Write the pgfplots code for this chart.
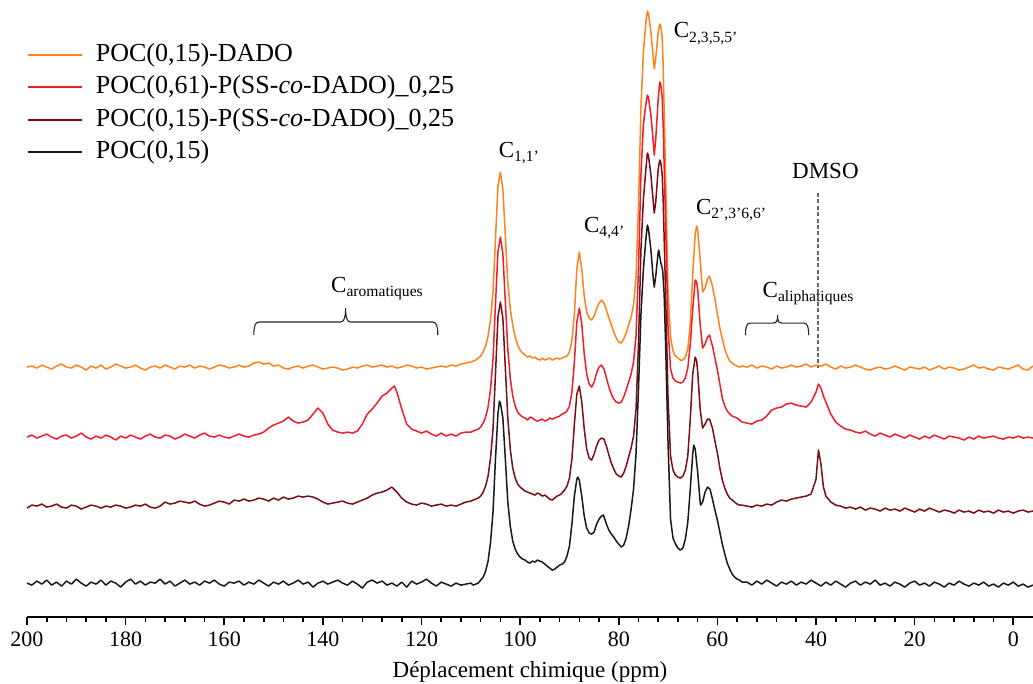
\documentclass[border=0pt]{standalone}
\usepackage{fontspec}
\setmainfont{Liberation Serif}
\usepackage{pgfplots}
\pgfplotsset{compat=1.18}
\usetikzlibrary{calc}
\definecolor{corange}{RGB}{255,130,30}
\definecolor{cred}{RGB}{240,30,40}
\definecolor{cdark}{RGB}{122,14,22}
\definecolor{cblack}{RGB}{25,25,25}
\newcommand\sub[1]{\raisebox{-2.2pt}{\fontsize{7.8}{8}\selectfont #1}}
\begin{document}
\begin{tikzpicture}
\begin{axis}[
  width=502.9pt, height=308.5pt, scale only axis,
  xmin=-4, xmax=200, ymin=-3, ymax=614,
  x dir=reverse,
  axis x line=bottom, axis y line=none,
  axis line style={-, line width=0.9pt},
  xtick={0,20,...,200}, minor x tick num=4,
  tick align=outside,
  major tick length=4pt, minor tick length=2.2pt,
  every tick/.style={black, line width=0.8pt},
  ytick=\empty,
  xticklabel style={font=\fontsize{11}{13}\selectfont},
  /pgf/number format/assume math mode=true,
  xlabel={Déplacement chimique (ppm)},
  xlabel style={font=\fontsize{11.5}{14}\selectfont, at={(axis description cs:0.5,0)}, anchor=base, yshift=-30pt},
  clip=false,
  legend cell align=left,
  legend style={draw=none, fill=none, at={(0.0,0.931)}, anchor=north west,
    inner sep=0pt, outer sep=0pt, font=\fontsize{13}{15}\selectfont, row sep=3.8pt,
    nodes={inner sep=0pt, text height=9.4pt, text depth=3pt},
    /tikz/every odd column/.append style={column sep=6.5pt}},
  legend image code/.code={\draw[#1, line width=0.9pt] (0pt,0pt) -- (27pt,0pt);},
  every axis plot/.append style={line width=0.75pt, line join=round},
]
\addplot[corange] table {
200 247
199 248
198 246
197 249
196 247
195 245
194 248
193 250
192 247
191 246
190 249
189 247
188 244
187 248
186 246
185 249
184 245
183 247
182 250
181 248
180 246
179 247
178 249
177 246
176 244
175 247
174 248
173 246
172 249
171 247
170 245
169 248
168 247
167 249
166 246
165 248
164 247
163 245
162 247
161 249
160 248
159 246
158 247
157 249
156 247
155 248
154 251
153 252
152 250
151 251
150 248
149 249
148 246
147 245
146 247
145 248
144 246
143 248
142 249
141 247
140 245
139 246
138 247
137 246
136 244
135 245
134 247
133 246
132 248
131 249
130 247
129 248
128 249
127 247
126 248
125 246
124 247
123 249
122 248
121 246
120 247
119 245
118 246
117 247
116 248
115 247
114 249
113 248
112 250
111 251
110 252
109.5 253
109 254
108.5 256
108 258
107.5 262
107 268
106.5 278
106 295
105.5 322
105 375
104.5 428
104 442
103.5 425
103 378
102.5 332
102 305
101.5 289
101 277
100.5 269
100 264
99.5 261
99 259
98.5 257
98 258
97.5 256
97 257
96.5 255
96 254
95.5 256
95 254
94.5 255
94 256
93.5 254
93 255
92.5 256
92 255
91.5 256
91 257
90.5 258
90 262
89.5 274
89 300
88.5 345
88 362
87.5 345
87 318
86.5 302
86 296
85.5 294
85 298
84.5 305
84 311
83.5 314
83 311
82.5 304
82 296
81.5 289
81 282
80.5 276
80 272
79.5 271
79 275
78.5 281
78 289
77.5 297
77 309
76.5 337
76 407
75.5 507
75 562
74.5 592
74.2 603
74 601
73.5 583
73 556
72.8 545
72.5 556
72 582
71.7 590
71.5 588
71.2 577
71 550
70.5 437
70 322
69.5 277
69 263
68.5 258
68 256
67.5 254
67 254
66.5 257
66 265
65.5 290
65 340
64.5 380
64.2 388
64 384
63.5 355
63 322
62.5 326
62 335
61.6 338
61 328
60.5 315
60 300
59.5 286
59 275
58.5 265
58 258
57.5 253
57 251
56.5 249
56 248
55.5 247
55 248
54 247
53 249
52 246
51 248
50 247
49 245
48 248
47 246
46 247
45 249
44 247
43 248
42 250
41 247
40 249
39 248
38 250
37 247
36 245
35 248
34 246
33 247
32 249
31 247
30 245
29 244
28 246
27 247
26 245
25 246
24 248
23 246
22 244
21 247
20 246
19 245
18 247
17 244
16 246
15 248
14 245
13 247
12 246
11 244
10 245
9 247
8 249
7 246
6 247
5 245
4 244
3 247
2 246
1 245
0 247
-1 249
-2 245
-3 244
-4 248
};
\addlegendentry{POC(0,15)-DADO}
\addplot[cred] table {
200 177
199 179
198 176
197 178
196 180
195 177
194 175
193 178
192 179
191 176
190 178
189 181
188 177
187 175
186 178
185 176
184 179
183 177
182 174
181 178
180 176
179 179
178 177
177 175
176 178
175 180
174 177
173 176
172 179
171 178
170 175
169 177
168 180
167 178
166 176
165 179
164 181
163 178
162 177
161 179
160 177
159 176
158 178
157 180
156 178
155 177
154 179
153 180
152 182
151 186
150 189
149 191
148 193
147 197
146 193
145 191
144 192
143 194
142 200
141 206
140 201
139 190
138 184
137 182
136 181
135 182
134 181
133 183
132 190
131 200
130 205
129 211
128 218
127 221
126 226
125.5 228
125 222
124 205
123 190
122 185
121 183
120 181
119 183
118 180
117 178
116 181
115 178
114 180
113 178
112 181
111 182
110 182
109.5 183
109 184
108.5 185
108 187
107.5 191
107 197
106.5 207
106 225
105.5 255
105 310
104.5 362
104 377
103.5 360
103 312
102.5 265
102 236
101.5 218
101 208
100.5 202
100 199
99.5 197
99 196
98.5 194
98 197
97.5 196
97 194
96.5 193
96 194
95.5 195
95 193
94.5 194
94 196
93.5 195
93 196
92.5 197
92 198
91.5 200
91 201
90.5 203
90 208
89.5 222
89 252
88.5 292
88 306
87.5 290
87 260
86.5 240
86 230
85.5 227
85 232
84.5 241
84 247
83.5 249
83 245
82.5 236
82 227
81.5 220
81 215
80.5 212
80 211
79.5 212
79 217
78.5 224
78 232
77.5 240
77 252
76.5 278
76 345
75.5 440
75 490
74.5 510
74.2 519
74 517
73.5 500
73 472
72.8 459
72.5 475
72 515
71.7 532
71.5 530
71.2 518
71 490
70.5 390
70 285
69.5 245
69 236
68.5 233
68 232
67.5 231
67 232
66.5 236
66 246
65.5 270
65 305
64.5 334
64.2 332
64 325
63.5 290
63 266
62.5 270
62 277
61.6 279
61 268
60.5 256
60 244
59.5 230
59 216
58.5 208
58 203
57.5 200
57 198
56.5 197
56 196
55.5 194
55 192
54 191
53 190
52 193
51 194
50 198
49 204
48 206
47 207
46 210
45 211
44 209
43 208
42 207
41 212
40 222
39.5 230
39 226
38.5 218
38 212
37 200
36 192
35 188
34 185
33 184
32 182
31 181
30 183
29 180
28 178
27 181
26 179
25 177
24 180
23 178
22 176
21 179
20 177
19 175
18 178
17 176
16 179
15 177
14 175
13 178
12 177
11 176
10 174
9 177
8 175
7 178
6 176
5 177
4 178
3 176
2 175
1 177
0 176
-1 178
-2 176
-3 177
-4 176
};
\addlegendentry{POC(0,61)-P(SS-\textit{co}-DADO)\_0,25}
\addplot[cdark] table {
200 106
199 109
198 108
197 110
196 107
195 108
194 110
193 107
192 106
191 109
190 108
189 105
188 107
187 109
186 108
185 106
184 108
183 107
182 109
181 108
180 106
179 107
178 109
177 108
176 110
175 107
174 106
173 108
172 112
171 110
170 111
169 113
168 112
167 111
166 113
165 110
164 108
163 109
162 111
161 113
160 112
159 110
158 114
157 113
156 115
155 113
154 114
153 116
152 115
151 113
150 116
149 114
148 117
147 115
146 116
145 118
144 117
143 118
142 117
141 115
140 112
139 110
138 111
137 112
136 113
135 111
134 110
133 112
132 114
131 116
130 119
129 121
128 122
127 124
126 127
125 122
124 116
123 112
122 110
121 109
120 111
119 110
118 108
117 109
116 110
115 108
114 109
113 108
112 110
111 112
110 113
109.5 114
109 115
108.5 116
108 118
107.5 122
107 128
106.5 138
106 156
105.5 185
105 240
104.5 297
104 312
103.5 296
103 246
102.5 196
102 165
101.5 146
101 136
100.5 130
100 127
99.5 125
99 123
98.5 122
98 121
97.5 120
97 119
96.5 121
96 120
95.5 118
95 119
94.5 117
94 115
93.5 114
93 116
92.5 118
92 119
91.5 121
91 124
90.5 128
90 136
89.5 155
89 190
88.5 220
88 228
87.5 212
87 185
86.5 165
86 156
85.5 154
85 160
84.5 168
84 174
83.5 176
83 175
82.5 168
82 159
81.5 151
81 145
80.5 140
80 138
79.5 137
79 141
78.5 148
78 157
77.5 166
77 178
76.5 205
76 270
75.5 365
75 415
74.5 445
74.2 461
74 459
73.5 440
73 412
72.8 401
72.5 412
72 445
71.7 454
71.5 452
71.2 440
71 415
70.5 320
70 215
69.5 158
69 144
68.5 139
68 137
67.5 136
67 138
66.5 144
66 158
65.5 195
65 240
64.5 257
64.2 253
64 243
63.5 205
63 186
62.5 190
62 195
61.6 195
61 186
60.5 173
60 161
59.5 146
59 134
58.5 126
58 120
57.5 116
57 114
56.5 112
56 110
55.5 109
55 109
54 108
53 107
52 109
51 108
50 110
49 109
48 112
47 114
46 113
45 115
44 116
43 117
42 118
41 120
40 135
39.5 164
39 150
38.5 127
38 118
37 112
36 109
35 108
34 106
33 107
32 105
31 107
30 104
29 106
28 105
27 103
26 106
25 104
24 105
23 103
22 106
21 104
20 102
19 105
18 103
17 106
16 104
15 102
14 104
13 103
12 101
11 104
10 102
9 103
8 101
7 104
6 102
5 103
4 101
3 104
2 102
1 103
0 101
-1 103
-2 104
-3 102
-4 103
};
\addlegendentry{POC(0,15)-P(SS-\textit{co}-DADO)\_0,25}
\addplot[cblack] table {
200 31
199 29
198 33
197 30
196 34
195 29
194 32
193 28
192 33
191 30
190 35
189 31
188 28
187 32
186 30
185 34
184 29
183 33
182 31
181 27
180 32
179 35
178 30
177 33
176 29
175 32
174 31
173 35
172 30
171 33
170 28
169 31
168 34
167 30
166 32
165 29
164 33
163 31
162 34
161 30
160 28
159 32
158 31
157 33
156 29
155 32
154 30
153 34
152 31
151 28
150 32
149 30
148 33
147 29
146 31
145 34
144 30
143 32
142 27
141 31
140 33
139 30
138 32
137 34
136 31
135 29
134 33
133 30
132 26
131 32
130 34
129 31
128 33
127 29
126 31
125 28
124 32
123 27
122 33
121 30
120 32
119 35
118 31
117 28
116 32
115 30
114 28
113 31
112 29
111 30
110 31
109.5 29
109 30
108.5 31
108 34
107.5 37
107 43
106.5 53
106 72
105.5 102
105 155
104.5 200
104.2 213
104 211
103.5 196
103 155
102.5 112
102 88
101.5 73
101 65
100.5 60
100 57
99.5 55
99 54
98.5 52
98 51
97.5 53
97 52
96.5 54
96 53
95.5 52
95 50
94.5 48
94 46
93.5 44
93 45
92.5 47
92 49
91.5 50
91 52
90.5 58
90 68
89.5 90
89 118
88.5 135
88.3 137
88 134
87.5 118
87 98
86.5 86
86 81
85.5 80
85 82
84.5 90
84 95
83.5 98
83.1 99
82.5 90
82 84
81.5 80
81 77
80.5 73
80 70
79.5 67
79 69
78.5 76
78 88
77.5 105
77 125
76.5 160
76 225
75.5 300
75 345
74.5 375
74.2 389
74 386
73.5 365
73 335
72.8 327
72.5 338
72 362
71.9 364
71.5 352
71.1 344
70.8 320
70.5 270
70 170
69.5 95
69 76
68.5 70
68 66
67.5 64
67 66
66.5 75
66 92
65.5 125
65 160
64.8 169
64.5 165
64 142
63.5 112
63.4 109
63 112
62.5 122
62 127
61.5 125
61 115
60.5 104
60 94
59.5 82
59 70
58.5 60
58 51
57.5 45
57 40
56.5 37
56 35
55.5 34
55 32
54 32
53 29
52 33
51 30
50 34
49 31
48 28
47 32
46 30
45 33
44 29
43 32
42 30
41 34
40 31
39 28
38 32
37 29
36 33
35 30
34 27
33 31
32 33
31 29
30 32
29 30
28 34
27 29
26 31
25 28
24 32
23 30
22 27
21 31
20 33
19 29
18 31
17 28
16 32
15 30
14 27
13 31
12 29
11 33
10 30
9 28
8 31
7 29
6 32
5 28
4 30
3 27
2 31
1 29
0 32
-1 28
-2 30
-3 27
-4 29
};
\addlegendentry{POC(0,15)}
% annotations
\begin{scope}[every node/.style={inner sep=0pt, font=\fontsize{11.5}{13}\selectfont}]
\node[anchor=base west] at (axis cs:104.4,457) {C\sub{1,1’}};
\node[anchor=base west] at (axis cs:87.1,382) {C\sub{4,4’}};
\node[anchor=base west] at (axis cs:68.9,576) {C\sub{2,3,5,5’}};
\node[anchor=base west] at (axis cs:64.4,400) {C\sub{2’,3’6,6’}};
\node[anchor=base] at (axis cs:38.1,436) {DMSO};
\node[anchor=base west] at (axis cs:138.4,322) {C\sub{aromatiques}};
\node[anchor=base west] at (axis cs:50.9,317) {C\sub{aliphatiques}};
\end{scope}
\draw[black!60, line width=0.6pt, dash pattern=on 2pt off 1.2pt] (axis cs:39.6,421) -- (axis cs:39.6,246);
\coordinate (aL) at (axis cs:154,279);
\coordinate (aC) at (axis cs:135.4,279);
\coordinate (aR) at (axis cs:116.7,279);
\coordinate (lL) at (axis cs:54.3,279);
\coordinate (lC) at (axis cs:47.8,279);
\coordinate (lR) at (axis cs:41.5,279);
\end{axis}
% braces (annotation only)
\draw[line width=0.55pt, black!85]
  (aL) .. controls +(0pt,4pt) and +(-2pt,0pt) .. ($(aL)+(2.5pt,6.5pt)$)
  -- ($(aC)+(-2.5pt,6.5pt)$) .. controls +(2pt,0pt) and +(0pt,-4pt) .. ($(aC)+(0pt,13.5pt)$)
  .. controls +(0pt,-4pt) and +(-2pt,0pt) .. ($(aC)+(2.5pt,6.5pt)$)
  -- ($(aR)+(-2.5pt,6.5pt)$) .. controls +(2pt,0pt) and +(0pt,4pt) .. (aR);
\draw[line width=0.55pt, black!85]
  (lL) .. controls +(0pt,4pt) and +(-2pt,0pt) .. ($(lL)+(2.5pt,6pt)$)
  -- ($(lC)+(-2.2pt,6pt)$) .. controls +(1.8pt,0pt) and +(0pt,-3pt) .. ($(lC)+(0pt,10pt)$)
  .. controls +(0pt,-3pt) and +(-1.8pt,0pt) .. ($(lC)+(2.2pt,6pt)$)
  -- ($(lR)+(-2.5pt,6pt)$) .. controls +(2pt,0pt) and +(0pt,4pt) .. (lR);
\pgfresetboundingbox
\path (current axis.south west) ++(-13.5pt,-33pt) rectangle (current axis.north east);
\end{tikzpicture}
\end{document}
